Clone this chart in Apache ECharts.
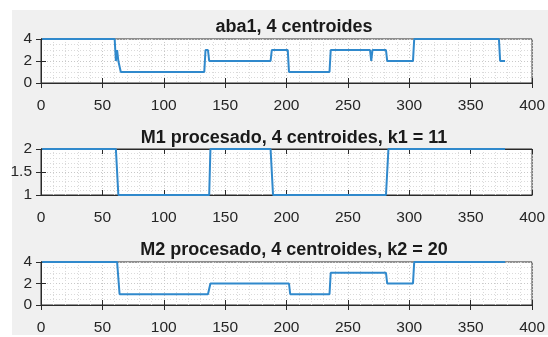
<!DOCTYPE html>
<html>
<head>
<meta charset="utf-8">
<script src="https://cdn.jsdelivr.net/npm/echarts@6/dist/echarts.min.js"></script>
<style>
html,body{margin:0;padding:0;background:#fff;}
#chart{width:548px;height:337px;}
</style>
</head>
<body>
<div id="chart"></div>
<script>
// ---- data (breakpoints) ----
const titles = ['aba1, 4 centroides', 'M1 procesado, 4 centroides, k1 = 11', 'M2 procesado, 4 centroides, k2 = 20'];
const xTicks = [0, 50, 100, 150, 200, 250, 300, 350, 400];
const yTicks1 = [0, 2, 4];
const yTicks2 = [1, 1.5, 2];
const yTicks3 = [0, 2, 4];

const aba1X = [1, 60, 61, 62, 63, 65, 133, 134, 136, 137, 187, 188, 201, 202, 235, 236, 268, 269, 270, 281, 282, 303, 304, 373, 374, 378];
const aba1Y = [4, 4, 2, 3, 2, 1, 1, 3, 3, 2, 2, 3, 3, 1, 1, 3, 3, 2, 3, 3, 2, 2, 4, 4, 2, 2];

const m1X = [1, 61, 63, 137, 138, 187, 189, 281, 283, 378];
const m1Y = [2, 2, 1, 1, 2, 2, 1, 1, 2, 2];

const m2X = [1, 62, 64, 136, 138, 202, 203, 235, 236, 281, 282, 303, 304, 378];
const m2Y = [4, 4, 1, 1, 2, 2, 1, 1, 3, 3, 2, 2, 4, 4];

// ---- chart ----
const FONT = '"Liberation Sans", Arial, sans-serif';
const pairs = (xs, ys) => xs.map((x, i) => [x, ys[i]]);
const grids = [
  {left: 41, top: 39, width: 496, height: 44},
  {left: 41, top: 149, width: 496, height: 46},
  {left: 41, top: 262, width: 496, height: 43}
];
const yRanges = [yTicks1, yTicks2, yTicks3];
const series = [pairs(aba1X, aba1Y), pairs(m1X, m1Y), pairs(m2X, m2Y)];
const boxColor = '#2a2a2a';

const xAxes = [], yAxes = [], seriesList = [], titleList = [];
grids.forEach((g, i) => {
  const yt = yRanges[i];
  const yInt = yt[1] - yt[0];
  const base = {
    gridIndex: i, type: 'value', min: xTicks[0], max: xTicks[xTicks.length - 1], interval: xTicks[1] - xTicks[0],
    axisLine: {show: true, lineStyle: {color: boxColor, width: 1}},
    axisTick: {show: true, inside: true, length: 5, lineStyle: {color: boxColor}},
  };
  xAxes.push(Object.assign({}, base, {
    position: 'bottom',
    axisLabel: {show: true, margin: 15, color: '#262626', fontSize: 15.5, fontFamily: FONT},
    splitLine: {show: true, lineStyle: {color: '#c8c8c8', type: [1, 2]}},
    minorTick: {show: false, splitNumber: 5},
    minorSplitLine: {show: true, lineStyle: {color: '#dadada', type: [1, 2]}}
  }));
  xAxes.push(Object.assign({}, base, {
    position: 'top', axisLabel: {show: false}, splitLine: {show: false}
  }));
  const ybase = {
    gridIndex: i, type: 'value', min: yt[0], max: yt[yt.length - 1], interval: yInt,
    axisLine: {show: true, lineStyle: {color: boxColor, width: 1}},
    axisTick: {show: true, inside: true, length: 5, lineStyle: {color: boxColor}}
  };
  yAxes.push(Object.assign({}, ybase, {
    position: 'left',
    axisLabel: {show: true, margin: 9, padding: [6, 0, 0, 0], color: '#262626', fontSize: 15.5, fontFamily: FONT},
    splitLine: {show: true, lineStyle: {color: '#c8c8c8', type: [1, 2]}},
    minorTick: {show: false, splitNumber: i === 1 ? 5 : 4},
    minorSplitLine: {show: true, lineStyle: {color: '#dadada', type: [1, 2]}}
  }));
  yAxes.push(Object.assign({}, ybase, {
    position: 'right', axisLabel: {show: false}, splitLine: {show: false}
  }));
  seriesList.push({
    type: 'line', xAxisIndex: i * 2, yAxisIndex: i * 2, data: series[i],
    symbol: 'none', lineStyle: {color: '#3089cc', width: 2}, itemStyle: {color: '#3089cc'},
    clip: false, z: 5
  });
  titleList.push({
    text: titles[i], left: g.left + g.width / 2, textAlign: 'center',
    top: [13, 124, 236][i],
    textStyle: {fontSize: 18, fontWeight: 'bold', color: '#1a1a1a', fontFamily: FONT}
  });
});

const chart = echarts.init(document.getElementById('chart'), null, {renderer: 'canvas'});
chart.setOption({
  animation: false,
  backgroundColor: '#ffffff',
  graphic: [{type: 'rect', z: -100, silent: true, shape: {x: 12, y: 10, width: 536, height: 325}, style: {fill: '#f0f0f0'}}],
  title: titleList,
  grid: grids.map(g => Object.assign({show: true, backgroundColor: '#ffffff', borderColor: boxColor, borderWidth: 1}, g)),
  xAxis: xAxes,
  yAxis: yAxes,
  series: seriesList
});
</script>
</body>
</html>
